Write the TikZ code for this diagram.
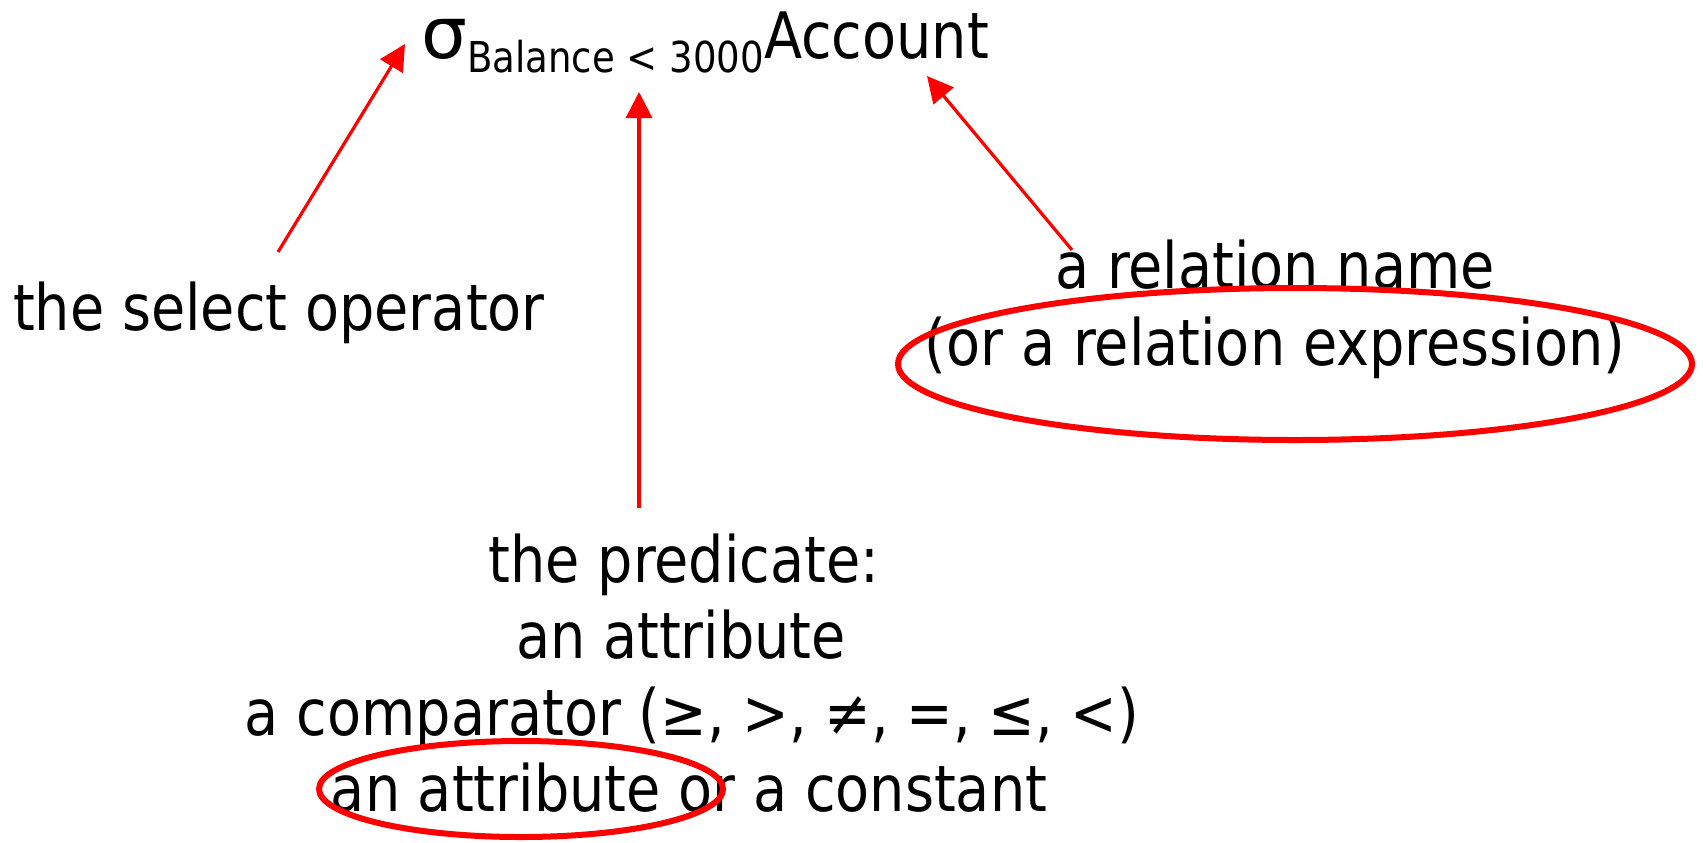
\documentclass[tikz,border=0pt]{standalone}
\usepackage{fontspec}
\setmainfont{DejaVu Sans}[FakeStretch=0.87]
\usetikzlibrary{arrows.meta}
\begin{document}
\begin{tikzpicture}[x=0.5pt,y=-0.5pt,
  lbl/.style={anchor=base, inner sep=0pt, font=\fontsize{32}{38}\selectfont},
  ptr/.style={draw=red, fill=red, line width=1.6pt, -{Triangle[length=13pt,width=13pt]}},
  ring/.style={draw=red, line width=3pt}]
\useasboundingbox (0,0) rectangle (1706,842);
% texts
\node[lbl, anchor=base west] (expr) at (421,58) {\scalebox{1.3}[1.12]{σ}\raisebox{-7pt}{\fontsize{21.3}{24}\selectfont Balance < 3000}Account};
\node[lbl] (sel) at (279,330) {the select operator};
\node[lbl] (rel1) at (1275,288) {a relation name};
\node[lbl] (rel2) at (1275,365) {(or a relation expression)};
\node[lbl] (p1) at (684,582) {the predicate:};
\node[lbl] (p2) at (681,658) {an attribute};
\node[lbl] (p3) at (692,735) {a comparator (≥, >, ≠, =, ≤, <)};
\node[lbl] (p4) at (689,811) {an attribute or a constant};
% arrow ends
\coordinate (selTail) at (278,252);
\coordinate (sigTip) at (405,44);
\coordinate (predTail) at (639,508);
\coordinate (subTip) at (639,92);
\coordinate (relTail) at (1072,250);
\coordinate (accTip) at (927,76);
\draw[ptr] (selTail) -- (sigTip);
\draw[ptr] (predTail) -- (subTip);
\draw[ptr] (relTail) -- (accTip);
% rings
\draw[ring] (1295,364) ellipse [x radius=397, y radius=76];
\draw[ring] (521,789) ellipse [x radius=202, y radius=48];
\end{tikzpicture}
\end{document}
